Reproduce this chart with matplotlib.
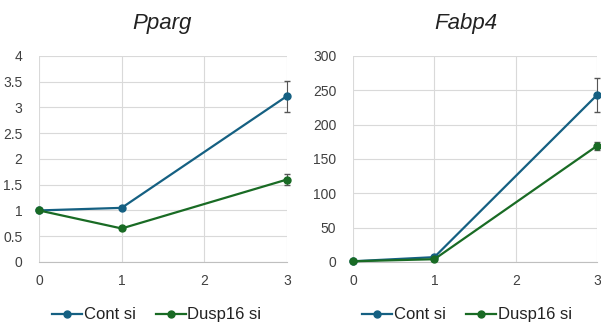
import matplotlib.pyplot as plt
from matplotlib.lines import Line2D
from matplotlib import font_manager

# time points and expression values
days = [0, 1, 3]
pparg_cont = [1.0, 1.05, 3.22]
pparg_cont_err = [0.03, 0.03, 0.30]
pparg_dusp = [1.0, 0.65, 1.60]
pparg_dusp_err = [0.03, 0.03, 0.10]

fabp4_cont = [1.0, 7.0, 243.0]
fabp4_cont_err = [1.0, 1.5, 25.0]
fabp4_dusp = [1.0, 4.0, 169.0]
fabp4_dusp_err = [1.0, 1.0, 6.0]

blue = "#156082"
green = "#196B24"

names = {f.name for f in font_manager.fontManager.ttflist}
font = "Liberation Sans Narrow" if "Liberation Sans Narrow" in names else "Liberation Sans"
plt.rcParams["font.family"] = [font, "DejaVu Sans"]

fig = plt.figure(figsize=(6.01, 3.23), dpi=100)


def panel(rect, title, title_x, cont, cont_err, dusp, dusp_err, ymax, ystep, legend_x):
    ax = fig.add_axes(rect)
    handles = []
    for y, err, c, lab in [(cont, cont_err, blue, "Cont si"), (dusp, dusp_err, green, "Dusp16 si")]:
        ax.errorbar(days, y, yerr=err, color=c, lw=1.6, marker="o", ms=5,
                    ecolor="#555555", elinewidth=0.8, capsize=2, zorder=3,
                    clip_on=False)
        handles.append(Line2D([], [], color=c, lw=1.6, marker="o", ms=5, label=lab))
    ax.set_xlim(0, 3)
    ax.set_ylim(0, ymax)
    ax.set_xticks([0, 1, 2, 3])
    yt = [i * ystep for i in range(int(round(ymax / ystep)) + 1)]
    ax.set_yticks(yt)
    ax.set_yticklabels([f"{v:g}" for v in yt])
    ax.grid(True, color="#D9D9D9", lw=0.8)
    ax.set_axisbelow(True)
    for s in ["top", "right", "left"]:
        ax.spines[s].set_visible(False)
    ax.spines["bottom"].set_color("#BFBFBF")
    ax.tick_params(length=0, labelsize=10, colors="#404040", pad=9)
    ax.tick_params(axis="y", pad=12)
    fig.text(title_x, 0.928, title, ha="center", va="center", fontsize=16,
             style="italic", color="#222222")
    fig.legend(handles=handles, loc="center", bbox_to_anchor=(legend_x, 0.025),
               ncol=2, frameon=False, fontsize=12, handlelength=1.8,
               handletextpad=0.1, columnspacing=1.2, labelcolor="#222222")
    return ax


panel([0.0649, 0.189, 0.4126, 0.638], "Pparg", 0.27,
      pparg_cont, pparg_cont_err, pparg_dusp, pparg_dusp_err, 4, 0.5, 0.261)
panel([0.5874, 0.189, 0.406, 0.638], "Fabp4", 0.775,
      fabp4_cont, fabp4_cont_err, fabp4_dusp, fabp4_dusp_err, 300, 50, 0.777)

fig.savefig("out.png", dpi=100)
